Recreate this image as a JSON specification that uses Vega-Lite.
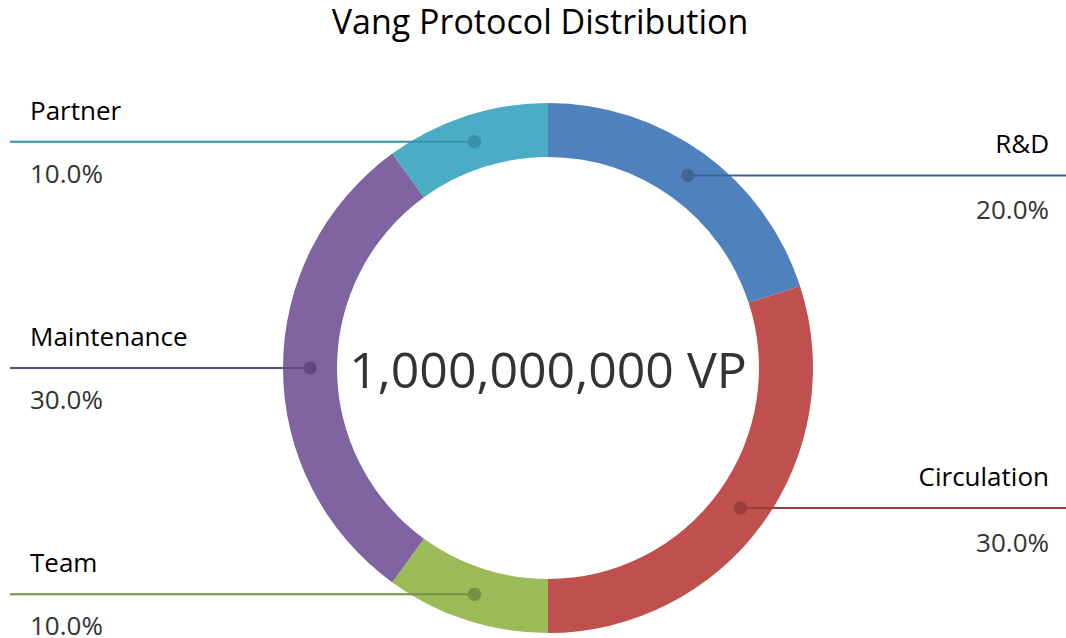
{
  "$schema": "https://vega.github.io/schema/vega-lite/v6.json",
  "width": 1066,
  "height": 588,
  "autosize": {"type": "none"},
  "padding": {"left": 0, "right": 0, "top": 50, "bottom": 0},
  "background": "white",
  "config": {"view": {"stroke": null}, "font": "Open Sans", "text": {"font": "Open Sans"}},
  "title": {"text": "Vang Protocol Distribution", "fontSize": 34, "fontWeight": "normal", "color": "#000000", "font": "Open Sans", "anchor": "middle", "baseline": "alphabetic", "offset": -18, "dx": 7},
  "data": {"values": [
    {"category": "R&D", "value": 20},
    {"category": "Circulation", "value": 30},
    {"category": "Team", "value": 10},
    {"category": "Maintenance", "value": 30},
    {"category": "Partner", "value": 10}
  ]},
  "transform": [
    {"window": [{"op": "sum", "field": "value", "as": "v1"}], "frame": [null, 0]},
    {"calculate": "datum.v1 - datum.value", "as": "v0"},
    {"calculate": "(datum.v0 + datum.v1) / 100 * PI", "as": "ang"},
    {"calculate": "238 * sin(datum.ang)", "as": "px"},
    {"calculate": "238 * cos(datum.ang)", "as": "py"},
    {"calculate": "datum.px > 0 ? 'right' : 'left'", "as": "side"},
    {"calculate": "format(datum.value, '.1f') + '%'", "as": "pct"}
  ],
  "layer": [
    {
      "mark": {"type": "arc", "innerRadius": 211, "outerRadius": 265},
      "encoding": {
        "theta": {"field": "v0", "type": "quantitative", "scale": {"domain": [0, 100]}},
        "theta2": {"field": "v1"},
        "color": {"field": "category", "type": "nominal", "legend": null,
          "scale": {"domain": ["R&D", "Circulation", "Team", "Maintenance", "Partner"], "range": ["#4F81BD", "#C0504D", "#9BBB59", "#8064A2", "#4BACC6"]}},
        "x": {"datum": 0, "type": "quantitative", "scale": {"domain": [-548, 518], "nice": false, "zero": false}, "axis": null},
        "y": {"datum": 0, "type": "quantitative", "scale": {"domain": [-270, 318], "nice": false, "zero": false}, "axis": null}
      }
    },
    {
      "data": {"values": [{"label": "1,000,000,000 VP"}]},
      "mark": {"type": "text", "fontSize": 50, "color": "#333333", "baseline": "alphabetic", "align": "center", "dy": 20},
      "encoding": {
        "text": {"field": "label"},
        "x": {"datum": 0, "type": "quantitative", "scale": {"domain": [-548, 518], "nice": false, "zero": false}, "axis": null},
        "y": {"datum": 0, "type": "quantitative", "scale": {"domain": [-270, 318], "nice": false, "zero": false}, "axis": null}
      }
    },
    {
      "transform": [{"filter": "datum.side == 'left'"}],
      "mark": {"type": "rule", "strokeWidth": 2},
      "encoding": {
        "x": {"field": "px", "type": "quantitative", "scale": {"domain": [-548, 518], "nice": false, "zero": false}, "axis": null},
        "x2": {"datum": -538},
        "y": {"field": "py", "type": "quantitative", "scale": {"domain": [-270, 318], "nice": false, "zero": false}, "axis": null},
        "stroke": {"field": "category", "type": "nominal", "legend": null,
          "scale": {"domain": ["R&D", "Circulation", "Team", "Maintenance", "Partner"], "range": ["#3D6799", "#9A3E3C", "#76913F", "#5F4A80", "#3890A6"]}}
      }
    },
    {
      "transform": [{"filter": "datum.side == 'right'"}],
      "mark": {"type": "rule", "strokeWidth": 2},
      "encoding": {
        "x": {"field": "px", "type": "quantitative", "scale": {"domain": [-548, 518], "nice": false, "zero": false}, "axis": null},
        "x2": {"datum": 518},
        "y": {"field": "py", "type": "quantitative", "scale": {"domain": [-270, 318], "nice": false, "zero": false}, "axis": null},
        "stroke": {"field": "category", "type": "nominal", "legend": null,
          "scale": {"domain": ["R&D", "Circulation", "Team", "Maintenance", "Partner"], "range": ["#3D6799", "#9A3E3C", "#76913F", "#5F4A80", "#3890A6"]}}
      }
    },
    {
      "mark": {"type": "point", "filled": true, "size": 180, "opacity": 1, "shape": "circle"},
      "encoding": {
        "x": {"field": "px", "type": "quantitative", "scale": {"domain": [-548, 518], "nice": false, "zero": false}, "axis": null},
        "y": {"field": "py", "type": "quantitative", "scale": {"domain": [-270, 318], "nice": false, "zero": false}, "axis": null},
        "fill": {"field": "category", "type": "nominal", "legend": null,
          "scale": {"domain": ["R&D", "Circulation", "Team", "Maintenance", "Partner"], "range": ["#3D6799", "#9A3E3C", "#76913F", "#5F4A80", "#3890A6"]}}
      }
    },
    {
      "transform": [{"filter": "datum.side == 'left'"}],
      "mark": {"type": "text", "fontSize": 26, "color": "#000000", "align": "left", "baseline": "alphabetic", "dy": -22},
      "encoding": {
        "text": {"field": "category"},
        "x": {"datum": -518, "type": "quantitative", "scale": {"domain": [-548, 518], "nice": false, "zero": false}, "axis": null},
        "y": {"field": "py", "type": "quantitative", "scale": {"domain": [-270, 318], "nice": false, "zero": false}, "axis": null}
      }
    },
    {
      "transform": [{"filter": "datum.side == 'left'"}],
      "mark": {"type": "text", "fontSize": 26, "color": "#333333", "align": "left", "baseline": "alphabetic", "dy": 41},
      "encoding": {
        "text": {"field": "pct"},
        "x": {"datum": -518, "type": "quantitative", "scale": {"domain": [-548, 518], "nice": false, "zero": false}, "axis": null},
        "y": {"field": "py", "type": "quantitative", "scale": {"domain": [-270, 318], "nice": false, "zero": false}, "axis": null}
      }
    },
    {
      "transform": [{"filter": "datum.side == 'right'"}],
      "mark": {"type": "text", "fontSize": 26, "color": "#000000", "align": "right", "baseline": "alphabetic", "dy": -22},
      "encoding": {
        "text": {"field": "category"},
        "x": {"datum": 501, "type": "quantitative", "scale": {"domain": [-548, 518], "nice": false, "zero": false}, "axis": null},
        "y": {"field": "py", "type": "quantitative", "scale": {"domain": [-270, 318], "nice": false, "zero": false}, "axis": null}
      }
    },
    {
      "transform": [{"filter": "datum.side == 'right'"}],
      "mark": {"type": "text", "fontSize": 26, "color": "#333333", "align": "right", "baseline": "alphabetic", "dy": 44},
      "encoding": {
        "text": {"field": "pct"},
        "x": {"datum": 501, "type": "quantitative", "scale": {"domain": [-548, 518], "nice": false, "zero": false}, "axis": null},
        "y": {"field": "py", "type": "quantitative", "scale": {"domain": [-270, 318], "nice": false, "zero": false}, "axis": null}
      }
    }
  ],
  "resolve": {"scale": {"color": "independent"}}
}
